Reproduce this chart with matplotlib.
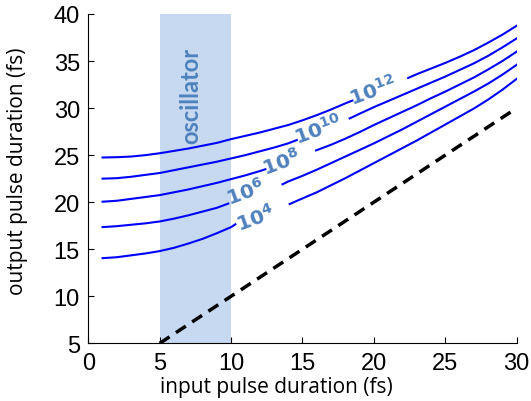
import numpy as np
import matplotlib
matplotlib.use("Agg")
import matplotlib.pyplot as plt

nan = np.nan

# Output pulse duration (fs) vs input pulse duration (fs) for several intensities.
# NaN entries leave room for the inline curve labels.
x_12 = [1, 2, 3, 4, 5, 6, 7, 8, 9, 10, 11, 12, 13, 14, 15, 16, 17, 18, 18.5,
        20, 22.4, 23, 24, 25, 26, 27, 28, 29, 30]
y_12 = [24.75, 24.78, 24.85, 25.0, 25.2, 25.45, 25.7, 26.0, 26.3, 26.7, 27.05, 27.4,
        27.8, 28.2, 28.7, 29.25, 29.85, 30.5, 30.8,
        nan, 33.2, 33.6, 34.2, 34.8, 35.45, 36.15, 36.95, 37.8, 38.75]

x_10 = [1, 2, 3, 4, 5, 6, 7, 8, 9, 10, 11, 12, 13, 14, 14.6,
        16, 18.3, 19, 20, 21, 22, 23, 24, 25, 26, 27, 28, 29, 30]
y_10 = [22.5, 22.55, 22.7, 22.9, 23.1, 23.4, 23.7, 24.0, 24.3, 24.65, 25.0, 25.4,
        25.8, 26.25, 26.6,
        nan, 28.9, 29.4, 30.1, 30.75, 31.4, 32.05, 32.7, 33.35, 34.05, 34.75, 35.55,
        36.45, 37.4]

x_8 = [1, 2, 3, 4, 5, 6, 7, 8, 9, 10, 11, 12, 12.4,
       14, 15.95, 17, 18, 19, 20, 21, 22, 23, 24, 25, 26, 27, 28, 29, 30]
y_8 = [20.05, 20.15, 20.35, 20.55, 20.75, 21.05, 21.35, 21.7, 22.05, 22.45, 22.85,
       23.3, 23.5,
       nan, 25.5, 26.1, 26.75, 27.45, 28.2, 28.9, 29.6, 30.3, 31.05, 31.75, 32.5,
       33.25, 34.1, 35.0, 36.0]

x_6 = [1, 2, 3, 4, 5, 6, 7, 8, 9, 9.8,
       12, 13.6, 14, 15, 16, 17, 18, 19, 20, 21, 22, 23, 24, 25, 26, 27, 28, 29, 30]
y_6 = [17.35, 17.45, 17.6, 17.75, 17.95, 18.25, 18.6, 19.0, 19.4, 19.85,
       nan, 21.9, 22.2, 22.8, 23.45, 24.15, 24.85, 25.55, 26.25, 27.0, 27.75, 28.55,
       29.35, 30.15, 30.95, 31.75, 32.6, 33.55, 34.6]

x_4 = [1, 2, 3, 4, 5, 6, 7, 8, 9, 10, 10.3,
       12, 14.1, 15, 16, 17, 18, 19, 20, 21, 22, 23, 24, 25, 26, 27, 28, 29, 30]
y_4 = [14.05, 14.15, 14.35, 14.55, 14.8, 15.15, 15.6, 16.1, 16.7, 17.35, 17.65,
       nan, 19.8, 20.4, 21.05, 21.8, 22.55, 23.35, 24.15, 24.95, 25.75, 26.55,
       27.4, 28.25, 29.1, 29.95, 30.9, 31.95, 33.1]

# Transform-limited reference (output = input)
diag_x = [5, 30]
diag_y = [5, 30]

# Oscillator input-duration range
osc_range = [5, 10]

curve_labels = ["$\\mathbf{10^{12}}$", "$\\mathbf{10^{10}}$", "$\\mathbf{10^{8}}$",
                "$\\mathbf{10^{6}}$", "$\\mathbf{10^{4}}$"]
label_x = [19.9, 16.1, 13.5, 11.0, 11.7]
label_y = [31.9, 27.8, 24.3, 21.1, 18.4]

xticks = [0, 5, 10, 15, 20, 25, 30]
yticks = [5, 10, 15, 20, 25, 30, 35, 40]

fig = plt.figure(figsize=(5.31, 4.02), dpi=100)
ax = fig.add_axes([0.1663, 0.1435, 0.973 - 0.1663, 0.9627 - 0.1435])

ax.axvspan(osc_range[0], osc_range[1], color="#c6d9f0", lw=0, zorder=0)

blue = "#0000ff"
for xs, ys in [(x_12, y_12), (x_10, y_10), (x_8, y_8), (x_6, y_6), (x_4, y_4)]:
    ax.plot(xs, ys, color=blue, lw=1.5, zorder=2)

ax.plot(diag_x, diag_y, color="black", lw=2.5, ls=(0, (3.4, 2.2)), zorder=2)

lab_color = "#4f81bd"
for lab, lx, ly in zip(curve_labels, label_x, label_y):
    ax.text(lx, ly, lab, color=lab_color, fontsize=14.5, rotation=20,
            ha="center", va="center", zorder=3, math_fontfamily="dejavusans")

ax.text(7.2, 31.4, "oscillator", color=lab_color, fontsize=17, fontweight="bold",
        family="Lato", rotation=90, ha="center", va="center", zorder=3)

ax.set_xlim(0, 30)
ax.set_ylim(5, 40)
ax.set_xticks(xticks)
ax.set_yticks(yticks)
ax.tick_params(direction="in", length=4, width=0.8, labelsize=17, pad=6)
for lab in ax.get_xticklabels() + ax.get_yticklabels():
    lab.set_fontfamily("Liberation Sans")

ax.spines["top"].set_visible(False)
ax.spines["right"].set_visible(False)

ax.set_xlabel("input pulse duration (fs)", fontsize=15, family="Open Sans")
ax.set_ylabel("output pulse duration (fs)", fontsize=15, family="Open Sans")
ax.xaxis.set_label_coords(0.44, -0.10)
ax.yaxis.set_label_coords(-0.14, 0.526)

fig.savefig("out.png", dpi=100)
